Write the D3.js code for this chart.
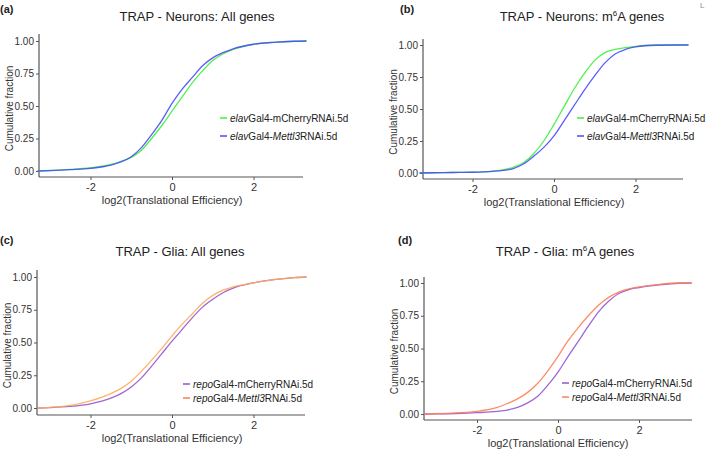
<!DOCTYPE html>
<html><head><meta charset="utf-8">
<script src="https://cdn.jsdelivr.net/npm/d3@7"></script>
<style>
body{margin:0;background:#fff;}
svg{display:block;font-family:"Liberation Sans",Arial,sans-serif;}
</style></head>
<body><svg id="c" width="709" height="454"></svg>
<script>
// ---- data ----
const xTicks = [-2, 0, 2];
const yTicks = [0, 0.25, 0.5, 0.75, 1];
const yTickLabels = ["0.00", "0.25", "0.50", "0.75", "1.00"];

const xA = [-3.3,-3,-2.5,-2,-1.5,-1.25,-1,-0.75,-0.5,-0.25,0,0.25,0.5,0.75,1,1.25,1.5,2,2.5,3,3.3];
const aMCherry = [0,0.004,0.012,0.025,0.05,0.075,0.105,0.16,0.25,0.35,0.46,0.57,0.68,0.77,0.85,0.90,0.935,0.975,0.99,0.998,1];
const aMettl3  = [0,0.003,0.010,0.020,0.045,0.07,0.11,0.18,0.28,0.39,0.52,0.63,0.72,0.81,0.87,0.91,0.94,0.975,0.99,0.998,1];

const xB = [-3.3,-3,-2.5,-2,-1.5,-1.25,-1,-0.75,-0.5,-0.25,0,0.25,0.5,0.75,1,1.25,1.5,1.75,2,2.5,3,3.3];
const bMCherry = [0,0.002,0.004,0.006,0.015,0.025,0.045,0.08,0.15,0.25,0.38,0.52,0.66,0.78,0.88,0.94,0.965,0.98,0.99,1,1,1];
const bMettl3  = [0,0.002,0.004,0.006,0.013,0.02,0.035,0.07,0.13,0.20,0.29,0.41,0.53,0.65,0.76,0.86,0.93,0.965,0.985,0.998,1,1];

const xC = [-3.3,-3,-2.5,-2,-1.5,-1.25,-1,-0.75,-0.5,-0.25,0,0.25,0.5,0.75,1,1.25,1.5,2,2.5,3,3.3];
const cMCherry = [0,0.003,0.012,0.032,0.075,0.11,0.16,0.23,0.32,0.415,0.51,0.60,0.69,0.77,0.83,0.88,0.915,0.955,0.98,0.995,1];
const cMettl3  = [0,0.005,0.02,0.055,0.11,0.15,0.205,0.28,0.365,0.455,0.55,0.64,0.72,0.80,0.86,0.90,0.925,0.955,0.98,0.995,1];

const xD = [-3.3,-3,-2.5,-2,-1.5,-1.25,-1,-0.75,-0.5,-0.25,0,0.25,0.5,0.75,1,1.25,1.5,1.75,2,2.5,3,3.3];
const dMCherry = [0,0.001,0.004,0.01,0.02,0.03,0.05,0.085,0.135,0.22,0.32,0.44,0.555,0.67,0.78,0.86,0.92,0.95,0.965,0.985,0.998,1];
const dMettl3  = [0,0.002,0.008,0.02,0.05,0.08,0.115,0.165,0.235,0.33,0.44,0.56,0.66,0.75,0.83,0.89,0.93,0.955,0.97,0.99,1,1];

// ---- layout ----
const panels = [
  {tag:"(a)", tagX:0, tagY:13, title:["TRAP - Neurons: All genes"], titleX:197, titleY:21,
   x0:39, x1:303, xZero:172, unit:40.75, yTop:34, y1:41, y0:171, axisY:177,
   xs:xA, series:[{v:aMCherry,c:"#3cf03c",g:"elav",rest:"Gal4-mCherryRNAi.5d"},{v:aMettl3,c:"#4a4aff",g:"elav",rest:"Mettl3"}],
   legX:220, legY:[118,136]},
  {tag:"(b)", tagX:400, tagY:13, title:["TRAP - Neurons: m","6","A genes"], titleX:582, titleY:21,
   x0:423, x1:683, xZero:554, unit:40.75, yTop:39, y1:45, y0:173, axisY:179,
   xs:xB, series:[{v:bMCherry,c:"#3cf03c",g:"elav",rest:"Gal4-mCherryRNAi.5d"},{v:bMettl3,c:"#4a4aff",g:"elav",rest:"Mettl3"}],
   legX:577, legY:[118,136]},
  {tag:"(c)", tagX:0, tagY:244, title:["TRAP - Glia: All genes"], titleX:180, titleY:256,
   x0:37, x1:305, xZero:172, unit:40.75, yTop:270, y1:277, y0:408, axisY:415,
   xs:xC, series:[{v:cMCherry,c:"#9355cf",g:"repo",rest:"Gal4-mCherryRNAi.5d"},{v:cMettl3,c:"#ffab55",lc:"#ff7a55",g:"repo",rest:"Mettl3"}],
   legX:183, legY:[384,398]},
  {tag:"(d)", tagX:398, tagY:244, title:["TRAP - Glia: m","6","A genes"], titleX:565, titleY:256,
   x0:424, x1:692, xZero:558, unit:40.5, yTop:277, y1:283, y0:414, axisY:420,
   xs:xD, series:[{v:dMCherry,c:"#9355cf",g:"repo",rest:"Gal4-mCherryRNAi.5d"},{v:dMettl3,c:"#ff7f55",g:"repo",rest:"Mettl3"}],
   legX:562, legY:[383,397]}
];

const svg = d3.select("#c");
const grey = "#555";

svg.append("text").attr("x",700).attr("y",8).attr("font-size",8).attr("fill","#888").text("L");

panels.forEach(p => {
  const g = svg.append("g");
  const xDom = [(p.x0 - p.xZero)/p.unit, (p.x1 - p.xZero)/p.unit];
  const x = d3.scaleLinear().domain(xDom).range([p.x0, p.x1]);
  const y = d3.scaleLinear().domain([0,1]).range([p.y0, p.y1]);

  g.append("text").attr("x",p.tagX).attr("y",p.tagY).attr("font-size",11).attr("font-weight","bold").attr("fill","#222").text(p.tag);
  const t = g.append("text").attr("x",p.titleX).attr("y",p.titleY).attr("text-anchor","middle").attr("font-size",13).attr("fill","#222");
  t.append("tspan").text(p.title[0]);
  if (p.title.length > 1) {
    t.append("tspan").attr("font-size",8).attr("dy",-5).text(p.title[1]);
    t.append("tspan").attr("dy",5).text(p.title[2]);
  }

  const xAxis = d3.axisBottom(x).tickValues(xTicks).tickSize(3).tickPadding(3).tickFormat(d => d < 0 ? "-" + Math.abs(d) : d);
  const gx = g.append("g").attr("transform",`translate(0,${p.axisY})`).call(xAxis);
  gx.select(".domain").attr("d",`M${p.x0},0H${p.x1}`).attr("stroke",grey).attr("stroke-width",1.2);
  gx.selectAll(".tick line").attr("stroke",grey);
  gx.selectAll(".tick text").attr("font-size",11).attr("fill","#333").attr("font-family","Liberation Sans,Arial,sans-serif");

  const yAxis = d3.axisLeft(y).tickValues(yTicks).tickSize(3).tickPadding(2).tickFormat((d,i) => yTickLabels[i]);
  const gy = g.append("g").attr("transform",`translate(${p.x0},0)`).call(yAxis);
  gy.select(".domain").attr("d",`M0,${p.yTop}V${p.axisY}`).attr("stroke",grey).attr("stroke-width",1.2);
  gy.selectAll(".tick line").attr("stroke",grey);
  gy.selectAll(".tick text").attr("font-size",10).attr("fill","#333").attr("font-family","Liberation Sans,Arial,sans-serif");

  g.append("text").attr("x",p.xZero).attr("y",p.axisY+27).attr("text-anchor","middle").attr("font-size",11).attr("fill","#333").text("log2(Translational Efficiency)");
  g.append("text").attr("transform",`translate(${p.x0-26},${(p.yTop+p.axisY)/2+3}) rotate(-90)`).attr("text-anchor","middle").attr("font-size",10).attr("fill","#333").text("Cumulative fraction");

  const line = d3.line().x((d,i) => x(p.xs[i])).y(d => y(d)).curve(d3.curveMonotoneX);
  p.series.forEach(s => {
    g.append("path").datum(s.v).attr("d",line).attr("fill","none").attr("stroke",s.c).attr("stroke-width",1.3).attr("opacity",0.9);
  });

  p.series.forEach((s,i) => {
    const ly = p.legY[i];
    g.append("line").attr("x1",p.legX).attr("x2",p.legX+7).attr("y1",ly).attr("y2",ly).attr("stroke",s.lc||s.c).attr("stroke-width",1.5);
    const tx = g.append("text").attr("x",p.legX+10).attr("y",ly+3.5).attr("font-size",10).attr("fill","#222");
    tx.append("tspan").attr("font-style","italic").text(s.g);
    if (s.rest === "Mettl3") {
      tx.append("tspan").text("Gal4-");
      tx.append("tspan").attr("font-style","italic").text("Mettl3");
      tx.append("tspan").text("RNAi.5d");
    } else {
      tx.append("tspan").text(s.rest);
    }
  });
});
</script></body></html>
